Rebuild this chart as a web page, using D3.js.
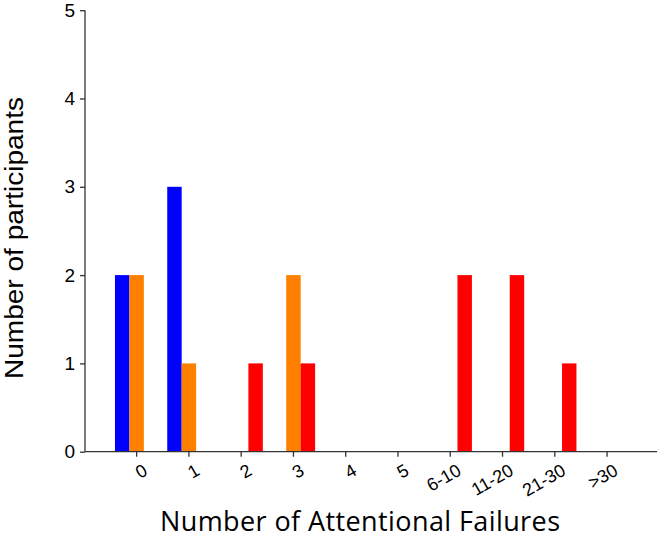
<!DOCTYPE html>
<html>
<head>
<meta charset="utf-8">
<script src="https://cdn.jsdelivr.net/npm/d3@7"></script>
<style>
  body { margin: 0; background: #fff; }
  svg { display: block; }
</style>
</head>
<body>
<svg class="chart"></svg>
<script>
// categories on the x axis
const categories = ["0", "1", "2", "3", "4", "5", "6-10", "11-20", "21-30", ">30"];
// three series (colours match the reference)
const seriesNames = ["blue", "orange", "red"];
const blueValues   = [2, 3, 0, 0, 0, 0, 0, 0, 0, 0];
const orangeValues = [2, 1, 0, 2, 0, 0, 0, 0, 0, 0];
const redValues    = [0, 0, 1, 1, 0, 0, 2, 2, 1, 0];
const yTicks = [0, 1, 2, 3, 4, 5];

const colors = { blue: "#0000ff", orange: "#ff8000", red: "#ff0000" };

const width = 659, height = 538;

const chart = d3.select(".chart")
  .attr("width", width)
  .attr("height", height);

// build rows for grouped bars
const rows = categories.map((c, i) => ({
  cat: c,
  values: [
    { key: "blue", value: blueValues[i] },
    { key: "orange", value: orangeValues[i] },
    { key: "red", value: redValues[i] }
  ]
}));

// scales
const x0 = d3.scaleBand()
  .domain(categories)
  .range([110.5, 633.2])
  .padding(0);

const x1 = d3.scaleBand()
  .domain(seriesNames)
  .range([0, x0.bandwidth()])
  .paddingInner(0)
  .paddingOuter(0.31);

const y = d3.scaleLinear()
  .domain([0, 5])
  .range([451.7, 10.2]);

const axisLeftX = 85;

// bars
const group = chart.selectAll("g.grp")
  .data(rows)
  .enter()
  .append("g")
    .attr("class", "grp")
    .attr("transform", d => `translate(${x0(d.cat)},0)`);

group.selectAll("rect")
  .data(d => d.values.filter(v => v.value > 0))
  .enter()
  .append("rect")
    .attr("x", d => x1(d.key))
    .attr("width", x1.bandwidth())
    .attr("y", d => y(d.value))
    .attr("height", d => y(0) - y(d.value))
    .attr("fill", d => colors[d.key]);

// y axis
const yAxis = chart.append("g")
  .attr("transform", `translate(${axisLeftX},0)`)
  .call(d3.axisLeft(y).tickValues(yTicks).tickSize(5).tickPadding(5).tickFormat(d3.format("d")));
yAxis.select(".domain").attr("d", `M0,${y(5)}V${y(0)}`);
yAxis.selectAll("text")
  .attr("font-family", "Liberation Sans, Arial, sans-serif")
  .attr("font-size", 19)
  .attr("fill", "#000");

// x axis (line starts at the y axis and runs to the edge)
const xAxis = chart.append("g")
  .attr("transform", `translate(0,${y(0)})`)
  .call(d3.axisBottom(x0).tickSize(5).tickSizeOuter(0));
xAxis.select(".domain").attr("d", `M${axisLeftX},0H657`);
xAxis.selectAll("text")
  .attr("font-family", "Liberation Sans, Arial, sans-serif")
  .attr("font-size", 18)
  .attr("fill", "#000")
  .attr("text-anchor", "end")
  .attr("transform", "translate(1,3) rotate(-30)")
  .attr("dy", "0.9em")
  .attr("y", 6);

chart.selectAll(".domain, .tick line").attr("stroke", "#333").attr("stroke-width", 1.3);

// axis titles
chart.append("text")
  .attr("transform", "translate(23,238) rotate(-90)")
  .attr("text-anchor", "middle")
  .attr("font-family", "Liberation Sans, Arial, sans-serif")
  .attr("font-size", 26)
  .attr("textLength", 282)
  .attr("lengthAdjust", "spacingAndGlyphs")
  .text("Number of participants");

chart.append("text")
  .attr("x", 360)
  .attr("y", 531)
  .attr("text-anchor", "middle")
  .attr("font-family", "Open Sans, Lato, sans-serif")
  .attr("font-size", 27)
  .attr("textLength", 400)
  .attr("lengthAdjust", "spacing")
  .text("Number of Attentional Failures");
</script>
</body>
</html>
